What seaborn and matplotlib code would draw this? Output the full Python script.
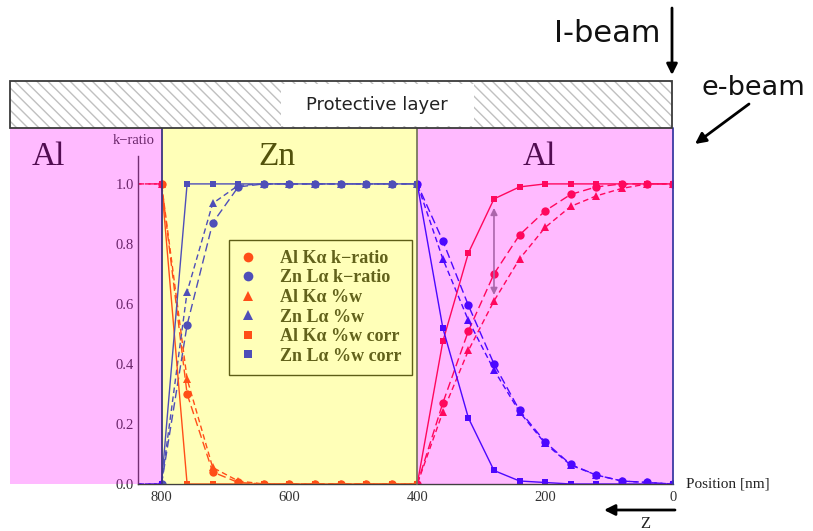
import matplotlib
matplotlib.use('Agg')
import matplotlib.pyplot as plt
import matplotlib.transforms as mtransforms
from matplotlib.patches import Rectangle, FancyArrowPatch
from matplotlib.lines import Line2D
import seaborn as sns

# depth positions [nm], measured from the surface hit by the e-beam
positions = [800, 760, 720, 680, 640, 600, 560, 520, 480, 440, 400,
             360, 320, 280, 240, 200, 160, 120, 80, 40, 0]
# dashed series also start inside the left Al layer (840 nm)
positions_dashed = [840] + positions

al_k_ratio = [1.0, 1.0, 0.30, 0.04, 0.005, 0.0, 0.0, 0.0, 0.0, 0.0, 0.0, 0.0,
              0.27, 0.51, 0.70, 0.83, 0.91, 0.965, 0.99, 1.0, 1.0, 1.0]
zn_k_ratio = [0.0, 0.0, 0.53, 0.87, 0.99, 1.0, 1.0, 1.0, 1.0, 1.0, 1.0, 1.0,
              0.81, 0.595, 0.40, 0.245, 0.14, 0.065, 0.03, 0.01, 0.005, 0.0]
al_wt = [1.0, 1.0, 0.35, 0.055, 0.01, 0.0, 0.0, 0.0, 0.0, 0.0, 0.0, 0.0,
         0.24, 0.445, 0.61, 0.75, 0.855, 0.925, 0.96, 0.985, 1.0, 1.0]
zn_wt = [0.0, 0.0, 0.64, 0.935, 0.995, 1.0, 1.0, 1.0, 1.0, 1.0, 1.0, 1.0,
         0.75, 0.545, 0.38, 0.24, 0.135, 0.063, 0.03, 0.01, 0.005, 0.0]
al_wt_corr = [1.0, 0.0, 0.0, 0.0, 0.0, 0.0, 0.0, 0.0, 0.0, 0.0, 0.0,
              0.475, 0.77, 0.95, 0.99, 1.0, 1.0, 1.0, 1.0, 1.0, 1.0]
zn_wt_corr = [0.0, 1.0, 1.0, 1.0, 1.0, 1.0, 1.0, 1.0, 1.0, 1.0, 1.0,
              0.52, 0.22, 0.045, 0.01, 0.005, 0.0, 0.0, 0.0, 0.0, 0.0]

# layers: name, start [nm], end [nm]
layers = [('Al', 1037, 800), ('Zn', 800, 400), ('Al', 400, 0)]

RED = '#ff0a22'
BLUE = '#0a0aff'

sns.set_theme(style='white')
plt.rcParams['font.family'] = ['Liberation Serif', 'DejaVu Serif']
plt.rcParams['hatch.linewidth'] = 1.0

W, H = 813, 531
fig = plt.figure(figsize=(W / 100, H / 100), dpi=100)
fig.patch.set_facecolor('white')


def fx(px):
    return px / W


def fy(py):
    return 1 - py / H


ax = fig.add_axes([fx(138), fy(484), fx(673) - fx(138), fy(156) - fy(484)])
ax.patch.set_alpha(0)

series = [
    ('Al K\u03b1 k\u2212ratio', positions_dashed, al_k_ratio, RED, 'o', 6, (0, (6, 3))),
    ('Zn L\u03b1 k\u2212ratio', positions_dashed, zn_k_ratio, BLUE, 'o', 6, (0, (6, 3))),
    ('Al K\u03b1 %w', positions_dashed, al_wt, RED, '^', 6, (0, (4, 2.5))),
    ('Zn L\u03b1 %w', positions_dashed, zn_wt, BLUE, '^', 6, (0, (4, 2.5))),
    ('Al K\u03b1 %w corr', positions, al_wt_corr, RED, 's', 5, '-'),
    ('Zn L\u03b1 %w corr', positions, zn_wt_corr, BLUE, 's', 5, '-'),
]

handles = []
for label, xs, ys, color, marker, ms, ls in series:
    kw = {}
    if xs is positions_dashed:
        kw['markevery'] = slice(1, None)
    sns.lineplot(x=xs, y=ys, ax=ax, color=color, marker=marker, markersize=ms,
                 markeredgewidth=0, linewidth=1.0, linestyle=ls,
                 estimator=None, sort=False, legend=False, **kw)
    handles.append(Line2D([], [], color=color, marker=marker, markersize=ms + 1,
                          markeredgewidth=0, linestyle='none'))

# difference between corrected and uncorrected Al at 280 nm
i280 = positions.index(280)
ax.annotate('', xy=(280, al_wt[i280 + 1] + 0.02), xytext=(280, al_wt_corr[i280] - 0.03),
            arrowprops=dict(arrowstyle='<|-|>', color='#8c8c8c', lw=1.2,
                            mutation_scale=10, shrinkA=0, shrinkB=0))

ax.set_xlim(836.8, 0)
ax.set_ylim(0, 1.093)
ax.set_xticks([800, 600, 400, 200, 0])
ax.set_yticks([0.0, 0.2, 0.4, 0.6, 0.8, 1.0])
ax.set_yticklabels(['%.1f' % v for v in [0.0, 0.2, 0.4, 0.6, 0.8, 1.0]])
for s in ['top', 'right']:
    ax.spines[s].set_visible(False)
for s in ['left', 'bottom']:
    ax.spines[s].set_color('#404040')
    ax.spines[s].set_linewidth(1.0)
ax.tick_params(axis='both', direction='in', length=3, width=0.8, colors='#404040',
               labelsize=10.5, labelcolor='#333333', pad=3)
ax.tick_params(axis='x', pad=5)
ax.set_xlabel('')
ax.set_ylabel('')

leg = ax.legend(handles, [s[0] for s in series], loc='upper left',
                bbox_to_anchor=(fx(229), fy(240)), bbox_transform=fig.transFigure,
                borderaxespad=0, frameon=True, fancybox=False, framealpha=1,
                facecolor='white', edgecolor='#202020', handlelength=1.0,
                handletextpad=1.3, labelspacing=0.14, borderpad=0.55,
                prop={'family': 'Liberation Serif', 'weight': 'bold', 'size': 13})
leg.get_frame().set_linewidth(1.0)

fig.text(fx(113), fy(140), 'k\u2212ratio', fontsize=10.5, color='#333333',
         ha='left', va='center')
fig.text(fx(686), fy(484), 'Position [nm]', fontsize=11, color='#222222',
         ha='left', va='center')

# layer names and coloured overlays
blend = mtransforms.blended_transform_factory(ax.transData, fig.transFigure)
name_px = [48, 277, 539]
for (name, x0, x1), px in zip(layers, name_px):
    fig.text(fx(px), fy(157), name, fontsize=24, color='#111111', ha='center', va='center')

overlay = {'Al': (1.0, 0.0, 1.0, 0.27), 'Zn': (1.0, 1.0, 0.0, 0.28)}
for name, x0, x1 in layers:
    fig.add_artist(Rectangle((x0, fy(484)), x1 - x0, fy(128) - fy(484), transform=blend,
                             facecolor=overlay[name], edgecolor='none', zorder=10))
edge_cols = {800: '#3c3680', 400: '#7a7a5e', 0: '#3a3aa4'}
for xe, c in edge_cols.items():
    fig.add_artist(Line2D([xe, xe], [fy(484), fy(128)], transform=blend, color=c,
                          lw=1.3, zorder=11))

# protective layer
fig.add_artist(Rectangle((fx(10), fy(128)), fx(672) - fx(10), fy(81) - fy(128),
                         facecolor='white', edgecolor='#c0c0c0', hatch='\\\\\\',
                         lw=0, zorder=12))
fig.add_artist(Rectangle((fx(281), fy(126)), fx(474) - fx(281), fy(84) - fy(126),
                         facecolor='white', edgecolor='none', zorder=13))
fig.add_artist(Rectangle((fx(10), fy(128)), fx(672) - fx(10), fy(81) - fy(128),
                         facecolor='none', edgecolor='#3a3a3a', lw=1.3, zorder=14))
fig.text(fx(377), fy(105), 'Protective layer', family='DejaVu Sans', fontsize=13,
         color='#222222', ha='center', va='center', zorder=15)

# beams
fig.text(fx(554), fy(42), 'I-beam', family='DejaVu Sans', fontsize=22, color='#111111',
         ha='left', va='baseline')
fig.text(fx(701), fy(95), 'e-beam', family='DejaVu Sans', fontsize=19.5, color='#111111',
         ha='left', va='baseline')
arrow_kw = dict(arrowstyle='-|>', mutation_scale=16, color='black', lw=2,
                transform=fig.transFigure, shrinkA=0, shrinkB=0, zorder=15)
fig.add_artist(FancyArrowPatch((fx(672), fy(8)), (fx(672), fy(75)), **arrow_kw))
fig.add_artist(FancyArrowPatch((fx(749), fy(104)), (fx(695), fy(144)), **arrow_kw))
fig.add_artist(FancyArrowPatch((fx(675), fy(510)), (fx(604), fy(510)), **arrow_kw))
fig.text(fx(645), fy(524), 'Z', fontsize=12, color='#222222', ha='center', va='center')

fig.savefig('out.png', dpi=100)
